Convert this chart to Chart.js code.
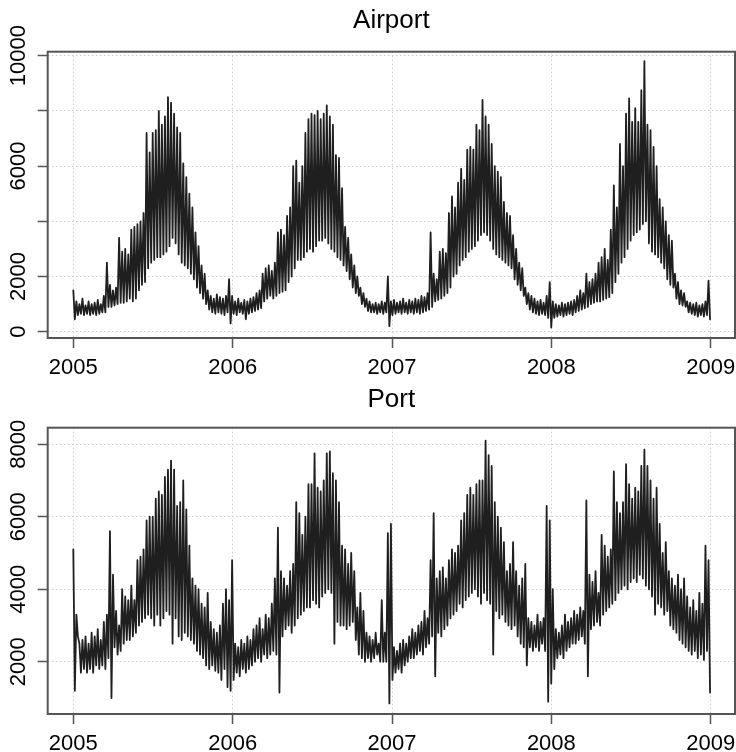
<!DOCTYPE html>
<html>
<head>
<meta charset="utf-8">
<script src="https://cdn.jsdelivr.net/npm/chart.js@4.4.1/dist/chart.umd.min.js"></script>
<style>
html,body{margin:0;padding:0;background:#fff;}
canvas{display:block;}
</style>
</head>
<body>
<canvas id="c1" width="736" height="376"></canvas>
<canvas id="c2" width="736" height="376"></canvas>
<script>
// ---- data (one high and one low reading per week, 2005-2008) ----
const startYear = 2005;
const xTickYears = [2005, 2006, 2007, 2008, 2009];
const xTickLabels = ['2005', '2006', '2007', '2008', '2009'];

const airportYTicks = [0, 2000, 4000, 6000, 8000, 10000];
const airportYLabels = ['0', '2000', '', '6000', '', '10000'];
const portYTicks = [2000, 4000, 6000, 8000];
const portYLabels = ['2000', '4000', '6000', '8000'];

const airportWeeklyHigh = [
  1500,1100,1000,1200,950,1100,1000,1050,1150,1000,
  1300,2500,1700,1500,1600,3400,2900,3000,2800,3700,
  3800,3900,4000,4300,7200,6500,7200,7300,8000,7500,
  7800,8500,8300,7900,7400,7200,6100,5600,5000,4500,
  3600,3100,2400,2100,1500,1300,1200,1350,1250,1200,
  1300,1900,
  1300,1100,1200,1050,1150,1100,1200,1250,1400,1500,
  2100,2300,2400,2200,2500,3600,3700,3500,4200,4500,
  6000,6200,5400,6000,7200,7700,7900,7850,8000,7700,
  7900,8200,7800,7500,6400,6300,5200,3800,3400,2800,
  2400,2000,1600,1400,1200,1100,1000,1050,1000,1100,
  1050,2000,
  1100,1150,1050,1100,1200,1050,1150,1100,1200,1150,
  1300,1250,1400,3600,2100,1900,2900,3000,2850,4300,
  4900,4500,5400,5900,5500,6600,6700,6600,7500,7300,
  8400,7800,7500,6800,6000,5800,5600,4700,4300,4200,
  3500,3000,2500,2300,1600,1400,1300,1200,1100,1150,
  1050,1300,1800,1100,
  1000,950,1050,1000,1050,1100,1150,1300,1500,1400,
  2100,1800,1900,2100,2500,2700,3000,2600,3700,5300,
  4500,6800,6000,7900,8450,7600,8100,7600,8750,9800,
  7500,7300,6700,6000,4800,4500,4000,3500,3300,2100,
  1800,1500,1400,1100,1050,1000,1050,950,1000,1100,
  1850
];
const airportWeeklyLow = [
  450,600,650,600,650,600,650,600,650,700,
  700,900,900,950,1000,1050,1050,1100,1200,1100,
  1200,1500,1700,1800,2300,2500,2600,2700,2700,2800,
  2900,3100,3400,3200,2800,2500,2400,2300,2100,1900,
  1600,1400,1200,1000,800,700,650,700,650,600,
  700,300,
  650,600,700,650,450,650,700,750,800,850,
  1100,1200,1300,1200,1300,1400,1450,1500,1800,2000,
  2300,2600,2600,2700,2900,3000,2900,3100,3300,3300,
  3400,3200,3000,2900,2700,2600,2400,2200,1900,1600,
  1400,1300,1000,900,750,700,700,650,700,650,
  700,200,
  600,650,700,650,700,650,700,650,700,650,
  700,750,800,900,1100,1150,1200,1300,1400,1600,
  2000,2100,2400,2600,2700,2900,3000,3100,3300,3500,
  3600,3500,3300,3000,2800,2700,2600,2500,2400,2300,
  1900,1700,1500,1300,1000,800,700,650,600,650,
  600,500,150,500,
  550,600,550,600,650,600,700,750,800,850,
  900,1000,1050,1100,1100,1150,1200,1250,1400,1800,
  2100,2500,2700,3000,3300,3500,3600,3700,3900,4000,
  3200,2900,2800,2700,2500,2300,1900,1700,1600,1200,
  1000,950,900,700,650,600,550,600,550,600,
  450
];

const portWeeklyHigh = [
  5100,3300,2500,2600,2700,2500,2800,2700,2900,2600,
  3100,3300,5600,4400,3400,3000,4000,3800,3700,4100,
  3700,4800,4900,5100,5900,6000,6000,6500,6700,6600,
  7100,7300,7550,7300,6300,6400,7000,6200,5200,4300,
  4100,4000,3600,3500,3900,3100,2900,2800,3000,3600,
  4000,3700,
  4800,2500,2400,2600,2500,2700,2600,2900,3000,3200,
  2900,3300,3200,3600,4300,5700,4500,4300,4100,4500,
  4700,6400,6100,5500,6000,6900,6900,7750,6800,6700,
  7000,7750,7800,7200,7000,6400,5200,5100,4700,5000,
  4500,3500,3900,3400,2800,2700,2600,2800,2500,3700,
  2800,5550,
  5800,2400,2300,2500,2600,2500,2700,2900,2800,3000,
  3100,3400,3200,4800,6100,4300,4500,4600,4300,4800,
  5100,5000,5200,5900,6100,6600,6800,6600,6900,7000,
  7000,8100,7700,7400,6400,6000,5700,5300,4500,4700,
  5300,4500,4100,4300,4700,3200,3100,3000,3300,3100,
  3200,6300,5900,4000,
  2900,2800,3000,3300,3100,3200,3400,3300,3500,3400,
  6450,4400,4200,4500,3900,5500,5200,4900,5100,7250,
  6400,6100,6400,7450,6900,6500,6800,6700,7400,7850,
  7400,7000,6500,6800,5800,5000,5300,4500,4300,4100,
  4400,4000,4300,3800,3500,3700,3400,3900,3600,5200,
  4800
];
const portWeeklyLow = [
  1200,2700,1700,1800,1700,1800,1700,1900,1800,1900,
  1800,2100,1000,2400,2200,2300,2500,2600,2600,2700,
  2800,3000,3100,3200,3300,3200,3000,3300,3000,3200,
  3400,3300,2500,3200,2700,2600,2800,2700,2600,2500,
  2300,2200,2100,1900,1800,1900,1750,1700,1500,1800,
  1300,1200,
  1500,1700,1600,1800,1700,1800,1900,2000,2100,2000,
  2200,2100,2200,2300,2200,1150,2700,2900,3000,2800,
  3000,3200,3300,3400,3500,3500,3700,3600,3500,3800,
  3900,4000,3900,2500,3100,3000,3000,2900,3000,3100,
  2600,2200,2100,2000,2100,2000,2100,2200,2000,2000,
  2000,850,
  1500,1700,1800,1700,1900,2000,2100,2100,2200,2300,
  2200,2400,2500,2700,1600,2800,2700,2900,3000,3200,
  3300,3400,3600,3500,3700,3800,3900,4000,3800,3600,
  3900,3700,3600,2200,3400,3200,3300,3100,3000,2900,
  3000,2700,2500,2400,1900,2400,2300,2400,2300,2500,
  2300,900,1400,1800,
  2100,2200,2100,2300,2400,2500,2500,2600,2700,2500,
  1600,2900,3000,3100,3000,3300,3400,3500,3600,3700,
  3900,4000,4100,4000,4200,4300,4200,4400,4300,4100,
  4000,3800,3300,3600,3500,3300,3400,3000,2900,2800,
  2600,2500,2400,2300,2200,2300,2100,2200,2050,2300,
  1150
];

// ---- build series (each week: high reading, then low reading half a week later) ----
function buildSeries(high, low) {
  const pts = [];
  for (let w = 0; w < high.length; w++) {
    pts.push({ x: startYear + (w * 7) / 365.25, y: high[w] });
    pts.push({ x: startYear + (w * 7 + 3.5) / 365.25, y: low[w] });
  }
  return pts;
}

const FONT = "'Liberation Sans', Arial, Helvetica, sans-serif";
const AXIS_W = 47.7;
const XAXIS_H = 38;

const boxPlugin = {
  id: 'plotBox',
  afterDraw(chart) {
    const { ctx, chartArea: a } = chart;
    ctx.save();
    ctx.strokeStyle = '#555';
    ctx.lineWidth = 2;
    ctx.strokeRect(a.left, a.top, a.right - a.left, a.bottom - a.top);
    ctx.restore();
  }
};

function makeChart(id, title, titlePad, points, yMin, yMax, yTicks, yLabels, yPad) {
  return new Chart(document.getElementById(id), {
    type: 'line',
    data: {
      datasets: [{
        data: points,
        borderColor: '#1f1f1f',
        borderWidth: 1.8,
        pointRadius: 0,
        tension: 0,
        fill: false,
        borderJoinStyle: 'round',
        borderCapStyle: 'round'
      }]
    },
    options: {
      responsive: false,
      animation: false,
      events: [],
      layout: { padding: { left: 0, right: 1, top: 0, bottom: 0 } },
      plugins: {
        legend: { display: false },
        tooltip: { enabled: false },
        title: {
          display: true,
          text: title,
          fullSize: false,
          color: '#000',
          font: { family: FONT, size: 26, weight: 'normal' },
          padding: titlePad
        }
      },
      scales: {
        x: {
          type: 'linear',
          bounds: 'data',
          min: 2004.8393,
          max: 2009.1525,
          afterBuildTicks: s => { s.ticks = xTickYears.map(v => ({ value: v })); },
          afterFit: s => { s.height = XAXIS_H; s.paddingLeft = 0; s.paddingRight = 0; },
          border: { display: false, dash: [1.5, 2.5] },
          grid: {
            color: '#cccccc',
            lineWidth: 1,
            drawTicks: true,
            tickLength: 10,
            tickColor: '#555',
            tickWidth: 1.5,
            tickBorderDash: []
          },
          ticks: {
            autoSkip: false,
            maxRotation: 0,
            minRotation: 0,
            padding: 6.3,
            color: '#000',
            font: { family: FONT, size: 22 },
            callback: (v, i) => xTickLabels[i]
          }
        },
        y: {
          type: 'linear',
          bounds: 'data',
          min: yMin,
          max: yMax,
          afterBuildTicks: s => { s.ticks = yTicks.map(v => ({ value: v })); },
          afterFit: s => { s.width = AXIS_W; s.paddingTop = 0; s.paddingBottom = 0; },
          border: { display: false, dash: [1.5, 2.5] },
          grid: {
            color: '#cccccc',
            lineWidth: 1,
            drawTicks: true,
            tickLength: 10,
            tickColor: '#555',
            tickWidth: 1.5,
            tickBorderDash: []
          },
          ticks: {
            autoSkip: false,
            minRotation: 90,
            maxRotation: 90,
            crossAlign: 'center',
            padding: yPad,
            color: '#000',
            font: { family: FONT, size: 22 },
            callback: (v, i) => yLabels[i]
          }
        }
      }
    },
    plugins: [boxPlugin]
  });
}

makeChart('c1', 'Airport', { top: 5.6, bottom: 14.9 },
  buildSeries(airportWeeklyHigh, airportWeeklyLow),
  -228, 10145, airportYTicks, airportYLabels, -12.2);

makeChart('c2', 'Port', { top: 8.6, bottom: 11.9 },
  buildSeries(portWeeklyHigh, portWeeklyLow),
  559, 8457, portYTicks, portYLabels, -6);
</script>
</body>
</html>
